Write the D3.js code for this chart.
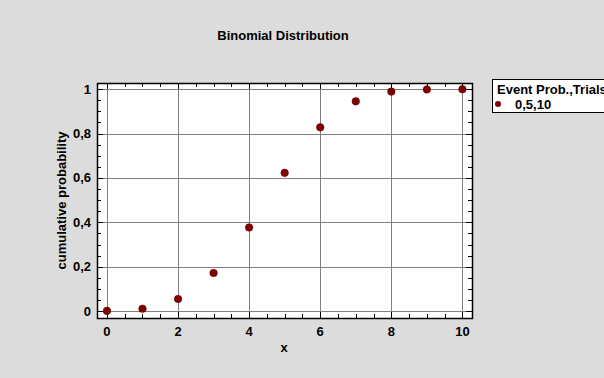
<!DOCTYPE html>
<html>
<head>
<meta charset="utf-8">
<script src="https://cdn.jsdelivr.net/npm/d3@7"></script>
<style>
  body { margin: 0; background: #dcdcdc; }
  svg { display: block; font-family: "Liberation Sans", Arial, sans-serif; }
</style>
</head>
<body>
<div id="chart"></div>
<script>
// Binomial CDF, p = 0.5, n = 10
const xValues = [0, 1, 2, 3, 4, 5, 6, 7, 8, 9, 10];
const cumProb = [0.001, 0.0107, 0.0547, 0.1719, 0.377, 0.623, 0.8281, 0.9453, 0.9893, 0.999, 1.0];
const xTicks = [0, 2, 4, 6, 8, 10];
const yTicks = [0, 0.2, 0.4, 0.6, 0.8, 1];
const legendTitle = "Event Prob.,Trials";
const legendLabel = "0,5,10";

const W = 604, H = 378;
const plot = { left: 97, top: 83, right: 472, bottom: 318 };

const svg = d3.select("#chart").append("svg")
    .attr("width", W).attr("height", H);

svg.append("rect").attr("width", W).attr("height", H).attr("fill", "#dcdcdc");

const x = d3.scaleLinear().domain([-0.28, 10.27]).range([plot.left, plot.right]);
const y = d3.scaleLinear().domain([-0.031, 1.028]).range([plot.bottom, plot.top]);

const fmt = d => String(d).replace(".", ",");

// plot area
svg.append("rect")
    .attr("x", plot.left).attr("y", plot.top)
    .attr("width", plot.right - plot.left).attr("height", plot.bottom - plot.top)
    .attr("fill", "#fff");

// grid
const grid = svg.append("g").attr("stroke", "#808080").attr("stroke-width", 1);
xTicks.forEach(t => {
    grid.append("line")
        .attr("x1", Math.round(x(t)) + 0.5).attr("x2", Math.round(x(t)) + 0.5)
        .attr("y1", plot.top).attr("y2", plot.bottom);
});
yTicks.forEach(t => {
    grid.append("line")
        .attr("y1", Math.round(y(t)) + 0.5).attr("y2", Math.round(y(t)) + 0.5)
        .attr("x1", plot.left).attr("x2", plot.right);
});

// inside ticks on all four sides
const ticksG = svg.append("g").attr("stroke", "#000").attr("stroke-width", 1);
d3.range(0, 10.01, 0.5).forEach(t => {
    const px = Math.round(x(t)) + 0.5;
    const len = Number.isInteger(t / 2) ? 6 : 4;
    ticksG.append("line").attr("x1", px).attr("x2", px)
        .attr("y1", plot.bottom).attr("y2", plot.bottom - len);
    ticksG.append("line").attr("x1", px).attr("x2", px)
        .attr("y1", plot.top).attr("y2", plot.top + len);
});
d3.range(0, 1.001, 0.05).forEach(t => {
    const py = Math.round(y(t)) + 0.5;
    const len = Math.abs(t * 5 - Math.round(t * 5)) < 1e-6 ? 6 : 4;
    ticksG.append("line").attr("y1", py).attr("y2", py)
        .attr("x1", plot.left).attr("x2", plot.left + len);
    ticksG.append("line").attr("y1", py).attr("y2", py)
        .attr("x1", plot.right).attr("x2", plot.right - len);
});

// frame
svg.append("rect")
    .attr("x", plot.left + 0.5).attr("y", plot.top + 0.5)
    .attr("width", plot.right - plot.left).attr("height", plot.bottom - plot.top)
    .attr("fill", "none").attr("stroke", "#000").attr("stroke-width", 1.5);

// tick labels
svg.append("g").selectAll("text").data(xTicks).join("text")
    .attr("x", d => x(d)).attr("y", plot.bottom + 18)
    .attr("text-anchor", "middle")
    .attr("font-size", 13).attr("font-weight", "bold")
    .text(d => d);

svg.append("g").selectAll("text").data(yTicks).join("text")
    .attr("x", plot.left - 6).attr("y", d => y(d) + 4.5)
    .attr("text-anchor", "end")
    .attr("font-size", 13).attr("font-weight", "bold")
    .text(fmt);

// titles
svg.append("text")
    .attr("x", 283).attr("y", 40)
    .attr("text-anchor", "middle")
    .attr("font-size", 13).attr("font-weight", "bold")
    .text("Binomial Distribution");

svg.append("text")
    .attr("x", 284).attr("y", 352)
    .attr("text-anchor", "middle")
    .attr("font-size", 13).attr("font-weight", "bold")
    .text("x");

svg.append("text")
    .attr("transform", `translate(66,${(plot.top + plot.bottom) / 2}) rotate(-90)`)
    .attr("text-anchor", "middle")
    .attr("font-size", 13).attr("font-weight", "bold")
    .text("cumulative probability");

// points
svg.append("g").selectAll("circle").data(xValues).join("circle")
    .attr("cx", (d, i) => x(d))
    .attr("cy", (d, i) => y(cumProb[i]))
    .attr("r", 3.8)
    .attr("fill", "#800000")
    .attr("stroke", "#5a0000").attr("stroke-width", 0.5);

// legend
const lg = svg.append("g");
lg.append("rect")
    .attr("x", 492.5).attr("y", 79.5)
    .attr("width", 130).attr("height", 33)
    .attr("fill", "#fff").attr("stroke", "#000").attr("stroke-width", 1);
lg.append("text")
    .attr("x", 497).attr("y", 94)
    .attr("font-size", 13).attr("font-weight", "bold")
    .text(legendTitle);
lg.append("circle")
    .attr("cx", 498).attr("cy", 104).attr("r", 3)
    .attr("fill", "#800000");
lg.append("text")
    .attr("x", 515).attr("y", 108.5)
    .attr("font-size", 13).attr("font-weight", "bold")
    .text(legendLabel);
</script>
</body>
</html>
